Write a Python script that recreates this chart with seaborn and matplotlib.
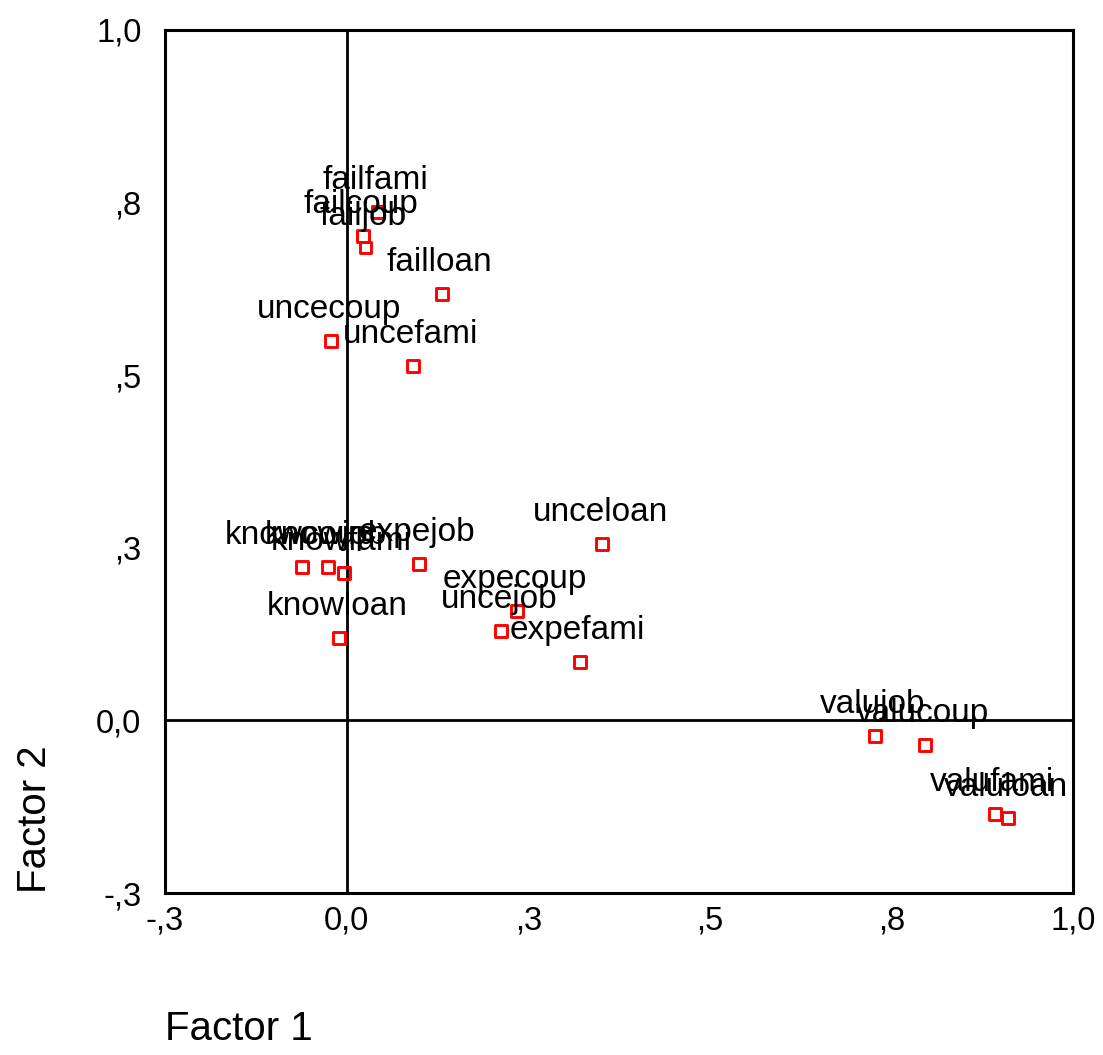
import matplotlib
matplotlib.use("Agg")
import matplotlib.pyplot as plt
import seaborn as sns
import pandas as pd

labels = ["failfami", "failcoup", "failjob", "failloan", "uncecoup", "uncefami",
          "unceloan", "knowcoup", "knowjob", "knowfami", "expejob", "expecoup",
          "uncejob", "expefami", "knowloan", "valujob", "valucoup", "valufami", "valuloan"]
factor1 = [0.043, 0.022, 0.026, 0.131, -0.021, 0.091,
           0.352, -0.061, -0.026, -0.004, 0.100, 0.235,
           0.213, 0.321, -0.010, 0.727, 0.796, 0.892, 0.910]
factor2 = [0.736, 0.702, 0.685, 0.618, 0.550, 0.513,
           0.256, 0.222, 0.222, 0.213, 0.227, 0.159,
           0.130, 0.084, 0.119, -0.022, -0.035, -0.135, -0.142]

tick_values = [-0.25, 0.0, 0.25, 0.5, 0.75, 1.0]
tick_labels = ["-,3", "0,0", ",3", ",5", ",8", "1,0"]

df = pd.DataFrame({"label": labels, "Factor 1": factor1, "Factor 2": factor2})

sns.set_style("white")
plt.rcParams["font.family"] = ["Liberation Sans", "DejaVu Sans"]

fig = plt.figure(figsize=(11.03, 10.55), dpi=100)
ax = fig.add_axes([165 / 1103, 1 - 893 / 1055, 908 / 1103, 863 / 1055])

ax.axhline(0, color="black", lw=2.0, zorder=1)
ax.axvline(0, color="black", lw=2.0, zorder=1)

sns.scatterplot(data=df, x="Factor 1", y="Factor 2", ax=ax, marker="s", s=74,
                facecolor="none", edgecolor="#ff0000", linewidth=2.1, zorder=3,
                legend=False)

for lab, x, y in zip(labels, factor1, factor2):
    ax.annotate(lab, (x, y), xytext=(-1.5, 16.5), textcoords="offset points",
                ha="center", va="baseline", fontsize=24, color="black", zorder=4)

ax.set_xlim(-0.25, 1.0)
ax.set_ylim(-0.25, 1.0)
ax.set_xticks(tick_values)
ax.set_xticklabels(tick_labels)
ax.set_yticks(tick_values)
ax.set_yticklabels(tick_labels)
ax.tick_params(axis="both", length=0, labelsize=23.5, colors="black")
ax.tick_params(axis="x", pad=9)
ax.tick_params(axis="y", pad=17)

for sp in ax.spines.values():
    sp.set_visible(True)
    sp.set_color("black")
    sp.set_linewidth(2.2)

ax.set_xlabel("Factor 1", fontsize=29, loc="left", color="black")
ax.set_ylabel("Factor 2", fontsize=29, loc="bottom", color="black")
ax.xaxis.set_label_coords(0.0, -0.135)
ax.yaxis.set_label_coords(-0.122, 0.0)

fig.savefig("out.png", dpi=100, facecolor="white")
